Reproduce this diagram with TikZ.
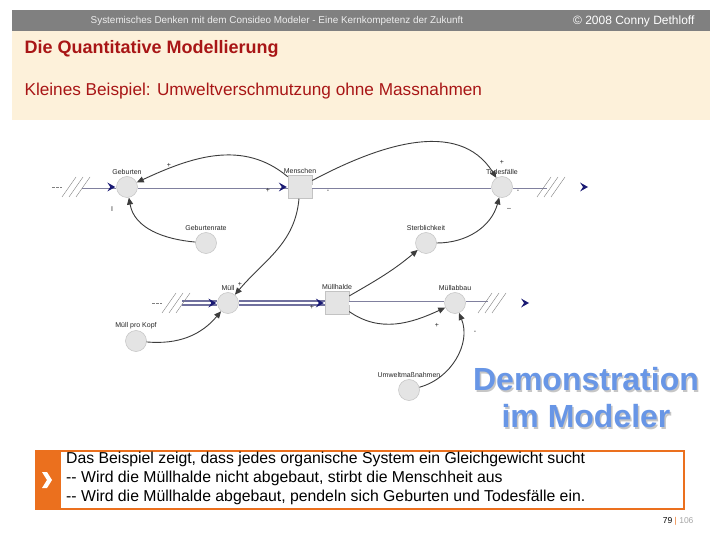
\documentclass[tikz,border=0pt]{standalone}
\usepackage{fontspec}
\setmainfont{Liberation Sans}
\usetikzlibrary{arrows.meta}
\usetikzlibrary{calc}
\definecolor{hdrgray}{RGB}{128, 128, 128}
\definecolor{cream1}{RGB}{253, 241, 218}
\definecolor{red1}{RGB}{168, 22, 22}
\definecolor{navy1}{RGB}{25, 25, 115}
\definecolor{flowgray}{RGB}{128, 128, 158}
\definecolor{flowblue}{RGB}{112, 112, 158}
\definecolor{linkgray}{RGB}{60, 60, 60}
\definecolor{var1}{RGB}{228, 228, 228}
\definecolor{var2}{RGB}{195, 195, 195}
\definecolor{blue1}{RGB}{104, 150, 230}
\definecolor{orange1}{RGB}{235, 112, 30}

\tikzset{
  flowtip/.pic={\fill[navy1] (0,0) -- (-8,4.5) -- (-5,0) -- (-8,-4.5) -- cycle;},
  cloudsrc/.pic={
    \draw[gray, line width=.5pt, dash pattern=on 2.5pt off 1.5pt] (-30,0) -- (-20,0);
    \foreach \i in {0,1,2}
      \draw[gray, line width=.4pt] (-20+7*\i,-10) -- ++(14,20);
  },
  cloudsink/.pic={
    \foreach \i in {0,1,2}
      \draw[gray, line width=.4pt] (-10+7*\i,-10) -- ++(14,20);
    \fill[navy1] (41,0) -- (33,4.5) -- (36,0) -- (33,-4.5) -- cycle;
  }
}

\begin{document}
\begin{tikzpicture}[x=1pt, y=1pt,
  var/.style={circle, fill=var1, draw=var2, line width=.5pt, minimum size=21pt, inner sep=0pt},
  stock/.style={rectangle, fill=var1, draw=var2, line width=.5pt, minimum width=24pt, minimum height=23pt, inner sep=0pt},
  lbl/.style={font=\fontsize{7}{8}\selectfont, text=black!85, inner sep=1pt},
  sign/.style={font=\fontsize{7}{8}\selectfont, text=black!85, inner sep=0pt},
  flow/.style={draw=flowgray, line width=.8pt, double=white, double distance=3pt},
  flowthick/.style={draw=flowblue, line width=2pt, double=white, double distance=1.6pt},
  link/.style={draw=linkgray, line width=.9pt, -{Triangle[length=7pt,width=6pt]}}
]
  \useasboundingbox (0,0) rectangle (720,-540);
  \fill[white] (0,0) rectangle (720,-540);

  % header
  \fill[hdrgray] (12,-10) rectangle (710,-31);
  \fill[cream1] (12,-31) rectangle (710,-120);
  \node[text=white!93!black, font=\fontsize{9.9}{11}\selectfont] (hdr) at (277,-21)
    {Systemisches Denken mit dem Consideo Modeler - Eine Kernkompetenz der Zukunft};
  \node[anchor=east, text=white, font=\fontsize{12}{14}\selectfont] (copy) at (698,-21) {© 2008 Conny Dethloff};
  \node[anchor=west, text=red1, font=\bfseries\fontsize{18}{21}\selectfont] (title) at (21,-49) {Die Quantitative Modellierung};
  \node[anchor=west, text=red1, font=\fontsize{17.2}{20}\selectfont] (sub) at (21,-91) {Kleines Beispiel: Umweltverschmutzung ohne Massnahmen};

  % variables and stocks
  \node[var, label={[lbl]above:Geburten}] (geb) at (127,-187) {};
  \node[stock, label={[lbl]above:Menschen}] (men) at (300,-187) {};
  \node[var, label={[lbl]above:Todesfälle}] (tod) at (502,-187) {};
  \node[var, label={[lbl]above:Geburtenrate}] (rate) at (206,-243) {};
  \node[var, label={[lbl]above:Sterblichkeit}] (sterb) at (426,-243) {};
  \node[var, label={[lbl]above:Müll}] (muell) at (228,-303) {};
  \node[stock, label={[lbl]above:Müllhalde}] (halde) at (337,-303) {};
  \node[var, label={[lbl]above:Müllabbau}] (abbau) at (455,-303) {};
  \node[var, label={[lbl]above:Müll pro Kopf}] (kopf) at (136,-341) {};
  \node[var, label={[lbl]above:Umweltmaßnahmen}] (umwelt) at (409,-390) {};

  \coordinate (src1) at (82,-187);
  \coordinate (snk1) at (547,-187);
  \coordinate (src2) at (182,-303);
  \coordinate (snk2) at (488,-303);

  % flows
  \foreach \from/\to in {src1/geb, geb/men, men/tod, tod/snk1, halde/abbau, abbau/snk2}
    \draw[flow] (\from) -- (\to);
  \foreach \from/\to in {src2/muell, muell/halde}
    \draw[flowthick] (\from) -- (\to);
  \path (src1) pic{cloudsrc} (src2) pic{cloudsrc};
  \path (snk1) pic{cloudsink} (snk2) pic{cloudsink};
  \foreach \n in {geb, men, muell, halde}
    \path ($(\n.west)+(-1,0)$) pic{flowtip};

  % links
  \foreach \from/\to/\o/\i in {men/geb/140/25, men/tod/28/122, rate/geb/175/-80,
      sterb/tod/0/-105, men/muell/-95/50, halde/sterb/30/-140, halde/abbau/-35/-155,
      umwelt/abbau/15/-68, kopf/muell/-5/-130}
    \draw[link] (\from) to[out=\o, in=\i] (\to);

  % polarities
  \foreach \n/\x/\y/\s in {a/169/-165/+, b/112/-209/I, c/268/-190/+, d/328/-191/-,
      e/502/-162/+, f/518/-191/-, g/509/-209/--, h/240/-284/+, i/312/-307/+,
      j/437/-325/+, k/475/-332/-}
    \node[sign] (s\n) at (\x,\y) {\s};

  % demo text
  \node[align=center, text=gray!45, font=\bfseries\fontsize{32}{37}\selectfont] (demoshadow) at (587.5,-399.5)
    {Demonstration\\im Modeler};
  \node[align=center, text=blue1, font=\bfseries\fontsize{32}{37}\selectfont] (demo) at (586,-398)
    {Demonstration\\im Modeler};

  % note box
  \fill[orange1] (36,-451) rectangle (61,-509);
  \draw[orange1, line width=2.5pt] (36,-451) rectangle (684,-509);
  \fill[white] (42,-472) -- (47,-472) -- (52,-480) -- (47,-488) -- (42,-488) -- (47,-480) -- cycle;
  \node[anchor=north west, align=left, inner sep=0pt, font=\fontsize{15.8}{19}\selectfont] (note) at (66,-452)
    {Das Beispiel zeigt, dass jedes organische System ein Gleichgewicht sucht\\
     -{}- Wird die Müllhalde nicht abgebaut, stirbt die Menschheit aus\\
     -{}- Wird die Müllhalde abgebaut, pendeln sich Geburten und Todesfälle ein.};
  \node[anchor=east, font=\fontsize{8.5}{10}\selectfont] (page) at (697,-521)
    {79 \textcolor{orange1}{|} \textcolor{gray!70}{106}};
\end{tikzpicture}
\end{document}
